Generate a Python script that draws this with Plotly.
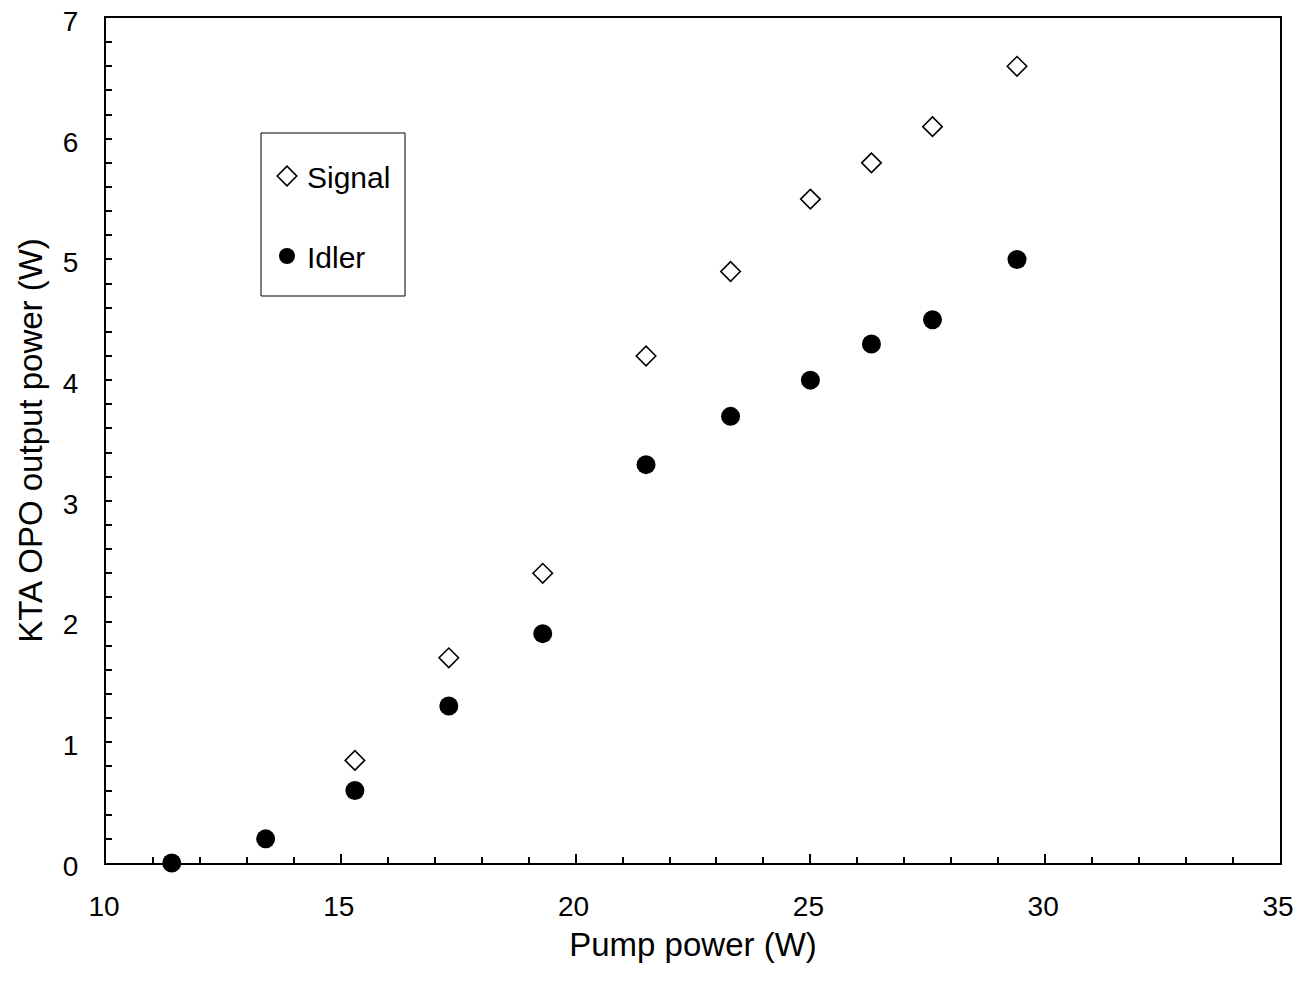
import plotly.graph_objects as go

pump_idler = [11.4, 13.4, 15.3, 17.3, 19.3, 21.5, 23.3, 25.0, 26.3, 27.6, 29.4]
idler = [0.0, 0.2, 0.6, 1.3, 1.9, 3.3, 3.7, 4.0, 4.3, 4.5, 5.0]
pump_signal = [15.3, 17.3, 19.3, 21.5, 23.3, 25.0, 26.3, 27.6, 29.4]
signal = [0.85, 1.7, 2.4, 4.2, 4.9, 5.5, 5.8, 6.1, 6.6]

OFF = 8  # page body margin
W, H = 1302 - 2 * OFF, 981 - 2 * OFF
L, R, T, B = 106 - OFF, 22 - OFF, 18 - OFF, 118 - OFF
pw, ph = W - L - R, H - T - B

def px(xp):
    return (xp - OFF - L) / pw

def py(yp):
    return (H - B - (yp - OFF)) / ph

fig = go.Figure()
fig.add_trace(go.Scatter(x=pump_signal, y=signal, mode="markers", name="Signal",
                         legendgroup="a",
                         marker=dict(symbol="diamond-open", size=15, color="black",
                                     line=dict(width=1.6, color="black")),
                         cliponaxis=False))
fig.add_trace(go.Scatter(x=pump_idler, y=idler, mode="markers", name="Idler",
                         legendgroup="b",
                         marker=dict(symbol="circle", size=19, color="black"),
                         cliponaxis=False))

fig.add_shape(type="rect", xref="paper", yref="paper",
              x0=px(261), x1=px(405), y0=py(296), y1=py(133),
              line=dict(color="black", width=1), fillcolor="rgba(0,0,0,0)")

font = "Liberation Sans, Arial, sans-serif"
fig.update_layout(
    width=W, height=H,
    margin=dict(l=L, r=R, t=T, b=B, autoexpand=False),
    paper_bgcolor="white", plot_bgcolor="white",
    font=dict(family=font, color="black", size=30),
    legend=dict(x=px(267), y=py(150), xanchor="left", yanchor="top",
                bgcolor="rgba(0,0,0,0)", borderwidth=0,
                font=dict(size=30, family=font),
                traceorder="grouped", tracegroupgap=38,
                itemwidth=30),
    xaxis=dict(range=[10, 35], tickmode="linear", tick0=10, dtick=5,
               automargin=False,
               showgrid=False, zeroline=False, showline=True, linewidth=2,
               linecolor="black", mirror=True, ticks="inside", ticklen=9,
               tickwidth=2, tickcolor="black", ticklabeloverflow="allow",
               tickfont=dict(size=28), ticklabelstandoff=17, ticklabelshift=-2,
               title=dict(text="Pump power (W)", font=dict(size=33), standoff=12),
               minor=dict(dtick=1, ticks="inside", ticklen=6, tickwidth=2,
                          tickcolor="black", showgrid=False)),
    yaxis=dict(range=[0, 7], tickmode="linear", tick0=0, dtick=1,
               automargin=False,
               showgrid=False, zeroline=False, showline=True, linewidth=2,
               linecolor="black", mirror=True, ticks="inside", ticklen=6,
               tickwidth=2, tickcolor="black", ticklabeloverflow="allow",
               tickfont=dict(size=28), ticklabelstandoff=20, ticklabelshift=3,
               title=dict(text="KTA OPO output power (W)", font=dict(size=33), standoff=10),
               minor=dict(dtick=0.2, ticks="inside", ticklen=6, tickwidth=2,
                          tickcolor="black", showgrid=False)),
)

fig.write_html("out.html")
